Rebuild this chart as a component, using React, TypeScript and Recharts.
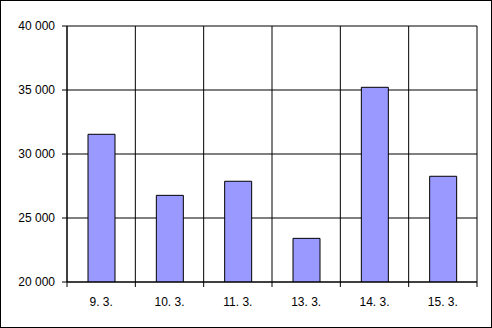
import { Bar, BarChart, CartesianGrid, XAxis, YAxis } from "recharts";

const days = ["9. 3.", "10. 3.", "11. 3.", "13. 3.", "14. 3.", "15. 3."];
const amounts = [31540, 26770, 27870, 23410, 35210, 28260];
const yTicks = [20000, 25000, 30000, 35000, 40000];

const data = days.map((day, i) => ({ day, amount: amounts[i] }));

const fmt = (v: number) => String(v).replace(/\B(?=(\d{3})+(?!\d))/g, " ");

const FONT = "'Liberation Sans', Arial, sans-serif";
const font = { fontFamily: FONT, fontSize: 12, fill: "#000" };

// vertical grid lines sit on the category boundaries of the plot area
const boundaries = ({ offset }: any) => {
  if (!offset) return [];
  const step = offset.width / days.length;
  return Array.from({ length: days.length + 1 }, (_, i) => offset.left + i * step);
};

// label in the middle of the category, tick mark on its left edge (and right edge for the last one)
const DayTick = ({ x, y, payload, index, width }: any) => {
  const half = payload?.offset || (width ? width / days.length / 2 : 0);
  const top = y - 15;
  return (
    <g>
      <line x1={x - half} x2={x - half} y1={top} y2={top + 5} stroke="#000" strokeWidth={1} />
      {index === days.length - 1 && (
        <line x1={x + half} x2={x + half} y1={top} y2={top + 5} stroke="#000" strokeWidth={1} />
      )}
      <text x={x} y={y} dy="0.71em" textAnchor="middle" fontFamily={FONT} fontSize={12} fill="#000">
        {payload.value}
      </text>
    </g>
  );
};

export default function App() {
  return (
    <div
      style={{
        position: "fixed",
        left: 0,
        top: 0,
        width: 492,
        height: 328,
        border: "1px solid #000",
        boxSizing: "border-box",
        background: "#fff",
      }}
    >
      <div style={{ position: "absolute", left: -1, top: -1 }}>
        <BarChart
          width={492}
          height={328}
          data={data}
          margin={{ top: 26, right: 15, bottom: 0, left: 0 }}
        >
          <XAxis
            dataKey="day"
            height={46}
            axisLine={{ stroke: "#000" }}
            tickLine={false}
            tickSize={5}
            tickMargin={10}
            tick={<DayTick />}
            interval={0}
          />
          <YAxis
            width={67}
            domain={[20000, 40000]}
            ticks={yTicks}
            allowDataOverflow
            tickFormatter={fmt}
            tickSize={5}
            tickMargin={7}
            tick={font}
            axisLine={{ stroke: "#000" }}
            tickLine={{ stroke: "#000" }}
          />
          <CartesianGrid
            stroke="#000"
            strokeOpacity={1}
            verticalCoordinatesGenerator={boundaries}
          />
          <Bar
            dataKey="amount"
            fill="#9999FF"
            stroke="#000"
            strokeWidth={1}
            barSize={27}
            isAnimationActive={false}
          />
        </BarChart>
      </div>
    </div>
  );
}
